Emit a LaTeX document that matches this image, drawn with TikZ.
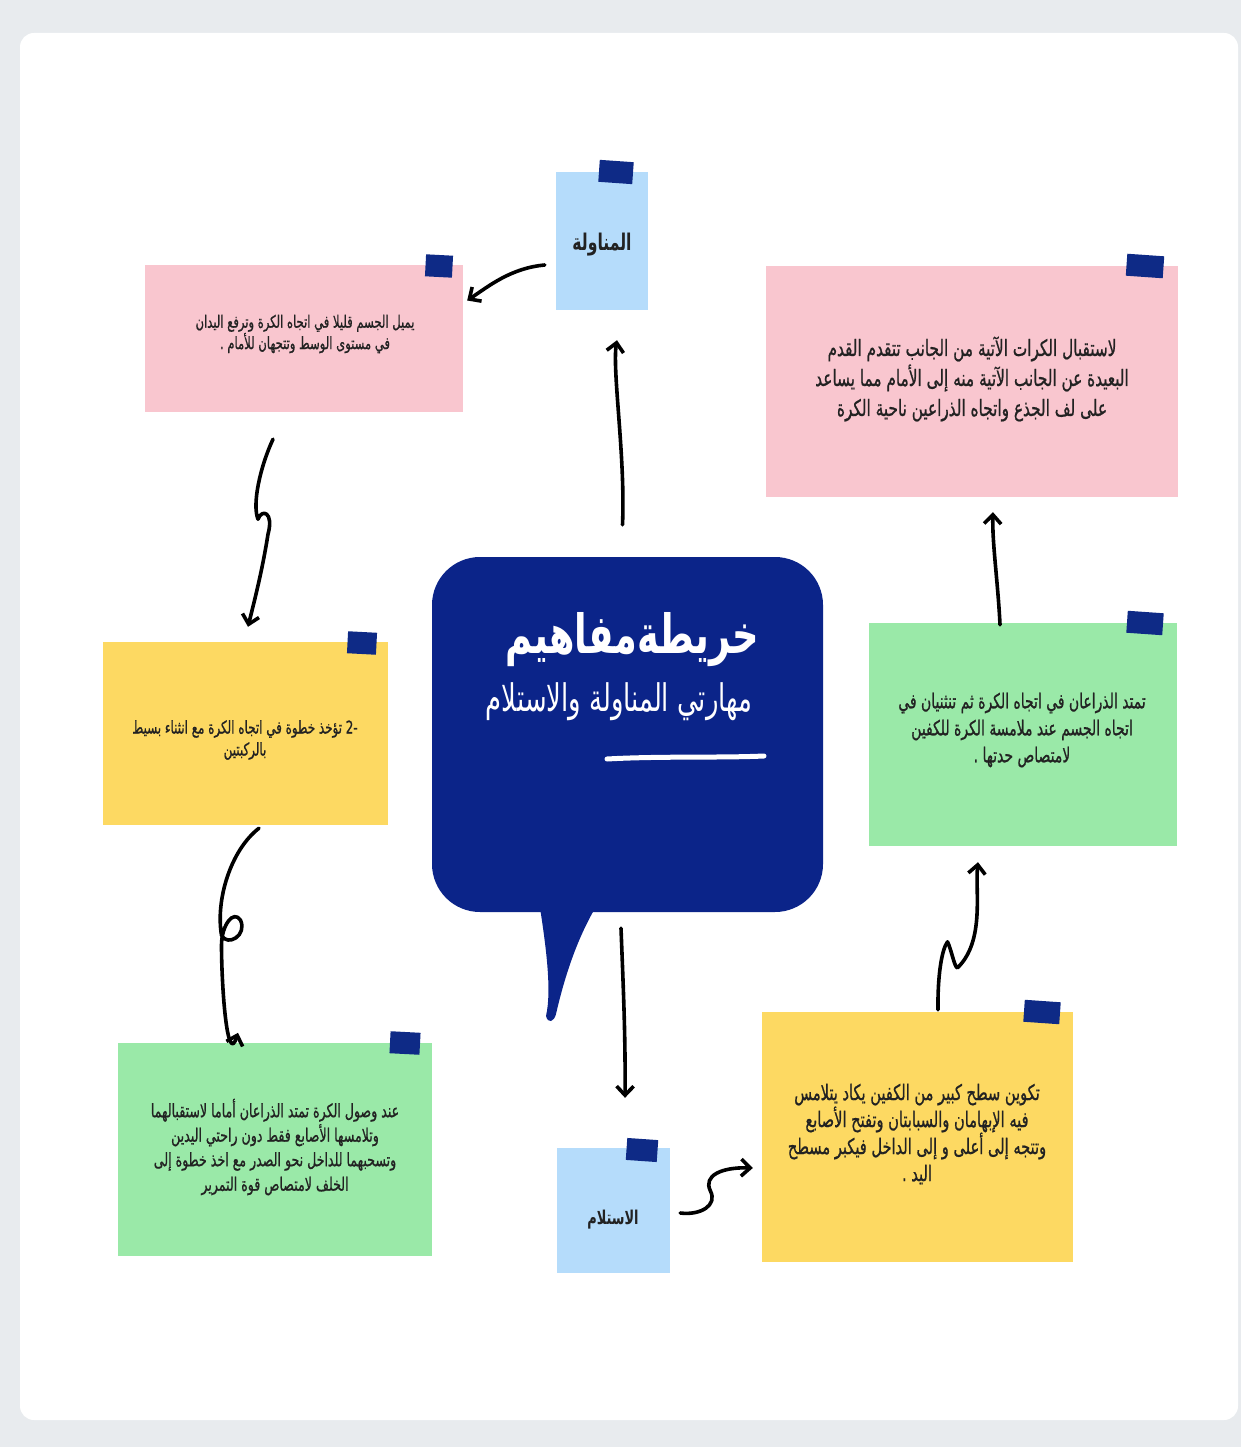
\documentclass[tikz,border=0pt]{standalone}
\usepackage{fontspec}
\usetikzlibrary{arrows.meta}
\TeXXeTstate=1
\newfontfamily\arabicfont[Script=Arabic,FakeStretch=0.68]{DejaVu Sans}
\newfontfamily\arabicbody[Script=Arabic,FakeStretch=0.68,FakeBold=0.8]{DejaVu Sans}
\newcommand{\arl}[1]{{\beginR #1\endR}}
\definecolor{bgout}{HTML}{E8EBEE}
\definecolor{navy}{HTML}{0B2489}
\definecolor{tapec}{HTML}{0E2A86}
\definecolor{pinkc}{HTML}{F9C6CF}
\definecolor{yellowc}{HTML}{FDD962}
\definecolor{greenc}{HTML}{9AE9A8}
\definecolor{bluec}{HTML}{B5DCFB}
\definecolor{txt}{HTML}{222222}
\tikzset{
  note/.style={draw=none, inner sep=0pt},
  txtlbl/.style={text=txt, inner sep=0pt, align=center},
  tapebox/.style={fill=tapec, minimum width=#1, minimum height=22pt, inner sep=0pt},
  tapebox/.default=32pt,
  conn/.style={line width=3.6pt, line cap=round, line join=round,
    -{Straight Barb[length=9pt,width=17pt]}},
}
\begin{document}
\begin{tikzpicture}[x=1pt,y=-1pt]
\fill[bgout] (0,0) rectangle (1241,1447);
\useasboundingbox (0,0) rectangle (1241,1447);
\fill[white, rounded corners=14pt] (20,33) rectangle (1238,1420);

% centre bubble
\fill[navy] (538,895) .. controls (546,945) and (552,990) .. (546,1016)
  .. controls (548,1024) and (554,1022) .. (556,1014)
  .. controls (565,975) and (578,935) .. (600,900) -- cycle;
\node[fill=navy, rounded corners=48pt, minimum width=391pt, minimum height=355pt, inner sep=0pt] (bub) at (627.5,734.5) {};
\node[text=white, font=\arabicfont\bfseries\fontsize{54}{60}\selectfont, inner sep=0pt] (title) at (632,640) {\arl{خريطةمفاهيم}};
\node[text=white, font=\arabicfont\fontsize{38}{44}\selectfont, inner sep=0pt] (subtitle) at (619,702) {\arl{مهارتي المناولة والاستلام}};
\draw[white, line width=5pt, line cap=round] (607,759) .. controls (660,756) and (720,758) .. (764,756);

% notes
\node[note, fill=bluec, minimum width=92pt, minimum height=138pt] (mn) at (602,241) {};
\node[txtlbl, font=\arabicfont\bfseries\fontsize{23}{26}\selectfont] (mnl) at (602,245) {\arl{المناولة}};
\node[tapebox=34pt, rotate=-4] (t1) at (616,172) {};

\node[note, fill=pinkc, minimum width=318pt, minimum height=147pt] (p1) at (304,338.5) {};
\node[txtlbl, font=\arabicbody\fontsize{17}{19.5}\selectfont] (p1t) at (305,334)
  {\arl{يميل الجسم قليلا في اتجاه الكرة وترفع اليدان}\\\arl{في مستوى الوسط وتتجهان للأمام .}};
\node[tapebox=27pt, rotate=-3] (t2) at (439,266) {};

\node[note, fill=pinkc, minimum width=412pt, minimum height=231pt] (p2) at (972,381.5) {};
\node[txtlbl, font=\arabicbody\fontsize{22.5}{30}\selectfont] (p2t) at (972,379)
  {\arl{لاستقبال الكرات الآتية من الجانب تتقدم القدم}\\\arl{البعيدة عن الجانب الآتية منه إلى الأمام مما يساعد}\\\arl{على لف الجذع واتجاه الذراعين ناحية الكرة}};
\node[tapebox=37pt, rotate=-4] (t3) at (1145,266) {};

\node[note, fill=yellowc, minimum width=285pt, minimum height=183pt] (y1) at (245.5,733.5) {};
\node[txtlbl, font=\arabicbody\fontsize{17.5}{22}\selectfont] (y1t) at (245,740)
  {\arl{\beginL -2\endL{} تؤخذ خطوة في اتجاه الكرة مع انثناء بسيط}\\\arl{بالركبتين}};
\node[tapebox=29pt, rotate=-3] (t4) at (362,643) {};

\node[note, fill=greenc, minimum width=308pt, minimum height=223pt] (g1) at (1023,734.5) {};
\node[txtlbl, font=\arabicbody\fontsize{20.5}{27}\selectfont] (g1t) at (1022,730)
  {\arl{تمتد الذراعان في اتجاه الكرة ثم تنثنيان في}\\\arl{اتجاه الجسم عند ملامسة الكرة للكفين}\\\arl{لامتصاص حدتها .}};
\node[tapebox=36pt, rotate=-4] (t5) at (1145,623) {};

\node[note, fill=greenc, minimum width=314pt, minimum height=213pt] (g2) at (275,1149.5) {};
\node[txtlbl, font=\arabicbody\fontsize{18.5}{24.5}\selectfont] (g2t) at (275,1147)
  {\arl{عند وصول الكرة تمتد الذراعان أماما لاستقبالهما}\\\arl{وتلامسها الأصابع فقط دون راحتي اليدين}\\\arl{وتسحبهما للداخل نحو الصدر مع اخذ خطوة إلى}\\\arl{الخلف لامتصاص قوة التمرير}};
\node[tapebox=30pt, rotate=-3] (t6) at (405,1043) {};

\node[note, fill=yellowc, minimum width=311pt, minimum height=250pt] (y2) at (917.5,1137) {};
\node[txtlbl, font=\arabicbody\fontsize{21.5}{27}\selectfont] (y2t) at (917,1134)
  {\arl{تكوين سطح كبير من الكفين يكاد يتلامس}\\\arl{فيه الإبهامان والسبابتان وتفتح الأصابع}\\\arl{وتتجه إلى أعلى و إلى الداخل فيكبر مسطح}\\\arl{اليد .}};
\node[tapebox=36pt, rotate=-4] (t7) at (1042,1012) {};

\node[note, fill=bluec, minimum width=113pt, minimum height=125pt] (st) at (613.5,1210.5) {};
\node[txtlbl, font=\arabicfont\bfseries\fontsize{19}{22}\selectfont] (stl) at (613,1220) {\arl{الاستلام}};
\node[tapebox=31pt, rotate=-4] (t8) at (642,1150) {};

% connectors
\draw[conn] ([xshift=-5pt,yshift=32pt]bub.north) .. controls ([xshift=-2pt,yshift=100pt]bub.north) and ([xshift=10pt,yshift=-60pt]mn.south) .. ([xshift=15pt,yshift=-30pt]mn.south);
\draw[conn] ([xshift=-11pt,yshift=-24pt]mn.west) .. controls ([xshift=-45pt,yshift=-27pt]mn.west) and ([xshift=25pt,yshift=52pt]p1.east) .. ([xshift=4pt,yshift=38pt]p1.east);
\draw[conn] ([xshift=-31pt,yshift=-27pt]p1.south) .. controls ([xshift=-44pt,yshift=-55pt]p1.south) and ([xshift=-52pt,yshift=-92pt]p1.south) .. ([xshift=-46pt,yshift=-107pt]p1.south)
  .. controls ([xshift=-42pt,yshift=-96pt]p1.south) and ([xshift=-30pt,yshift=-100pt]p1.south) .. ([xshift=-36pt,yshift=-122pt]p1.south)
  .. controls ([xshift=-42pt,yshift=-160pt]p1.south) and ([xshift=-50pt,yshift=-190pt]p1.south) .. ([xshift=2.5pt,yshift=15pt]y1.north);
\draw[conn] ([xshift=13.5pt,yshift=-3pt]y1.south) .. controls ([xshift=-15pt,yshift=-25pt]y1.south) and ([xshift=-30pt,yshift=-75pt]y1.south) .. ([xshift=-24pt,yshift=-110pt]y1.south)
  .. controls ([xshift=-18pt,yshift=-122pt]y1.south) and ([xshift=2pt,yshift=-110pt]y1.south) .. ([xshift=-5pt,yshift=-95pt]y1.south)
  .. controls ([xshift=-12pt,yshift=-84pt]y1.south) and ([xshift=-24pt,yshift=-100pt]y1.south) .. ([xshift=-24pt,yshift=-120pt]y1.south)
  .. controls ([xshift=-24pt,yshift=-160pt]y1.south) and ([xshift=-48pt,yshift=-25pt]g2.north) .. ([xshift=-37pt,yshift=10pt]g2.north);
\draw[conn] ([xshift=-6.5pt,yshift=-16pt]bub.south) .. controls ([xshift=-4pt,yshift=-80pt]bub.south) and ([xshift=12pt,yshift=110pt]st.north) .. ([xshift=11.5pt,yshift=50pt]st.north);
\draw[conn] ([xshift=10pt,yshift=-2.5pt]st.east) .. controls ([xshift=30pt,yshift=-5pt]st.east) and ([xshift=48pt,yshift=5pt]st.east) .. ([xshift=40pt,yshift=20pt]st.east)
  .. controls ([xshift=33pt,yshift=35pt]st.east) and ([xshift=-40pt,yshift=-30pt]y2.west) .. ([xshift=-9pt,yshift=-31pt]y2.west);
\draw[conn] ([xshift=20.5pt,yshift=2pt]y2.north) .. controls ([xshift=20pt,yshift=35pt]y2.north) and ([xshift=24pt,yshift=62pt]y2.north) .. ([xshift=30pt,yshift=70pt]y2.north)
  .. controls ([xshift=34pt,yshift=62pt]y2.north) and ([xshift=37pt,yshift=44pt]y2.north) .. ([xshift=40pt,yshift=44pt]y2.north)
  .. controls ([xshift=-38pt,yshift=-95pt]g1.south) and ([xshift=-48pt,yshift=-45pt]g1.south) .. ([xshift=-45pt,yshift=-16pt]g1.south);
\draw[conn] ([xshift=-23pt,yshift=-2pt]g1.north) .. controls ([xshift=-25pt,yshift=40pt]g1.north) and ([xshift=20pt,yshift=-45pt]p2.south) .. ([xshift=21pt,yshift=-15pt]p2.south);
\end{tikzpicture}
\end{document}
